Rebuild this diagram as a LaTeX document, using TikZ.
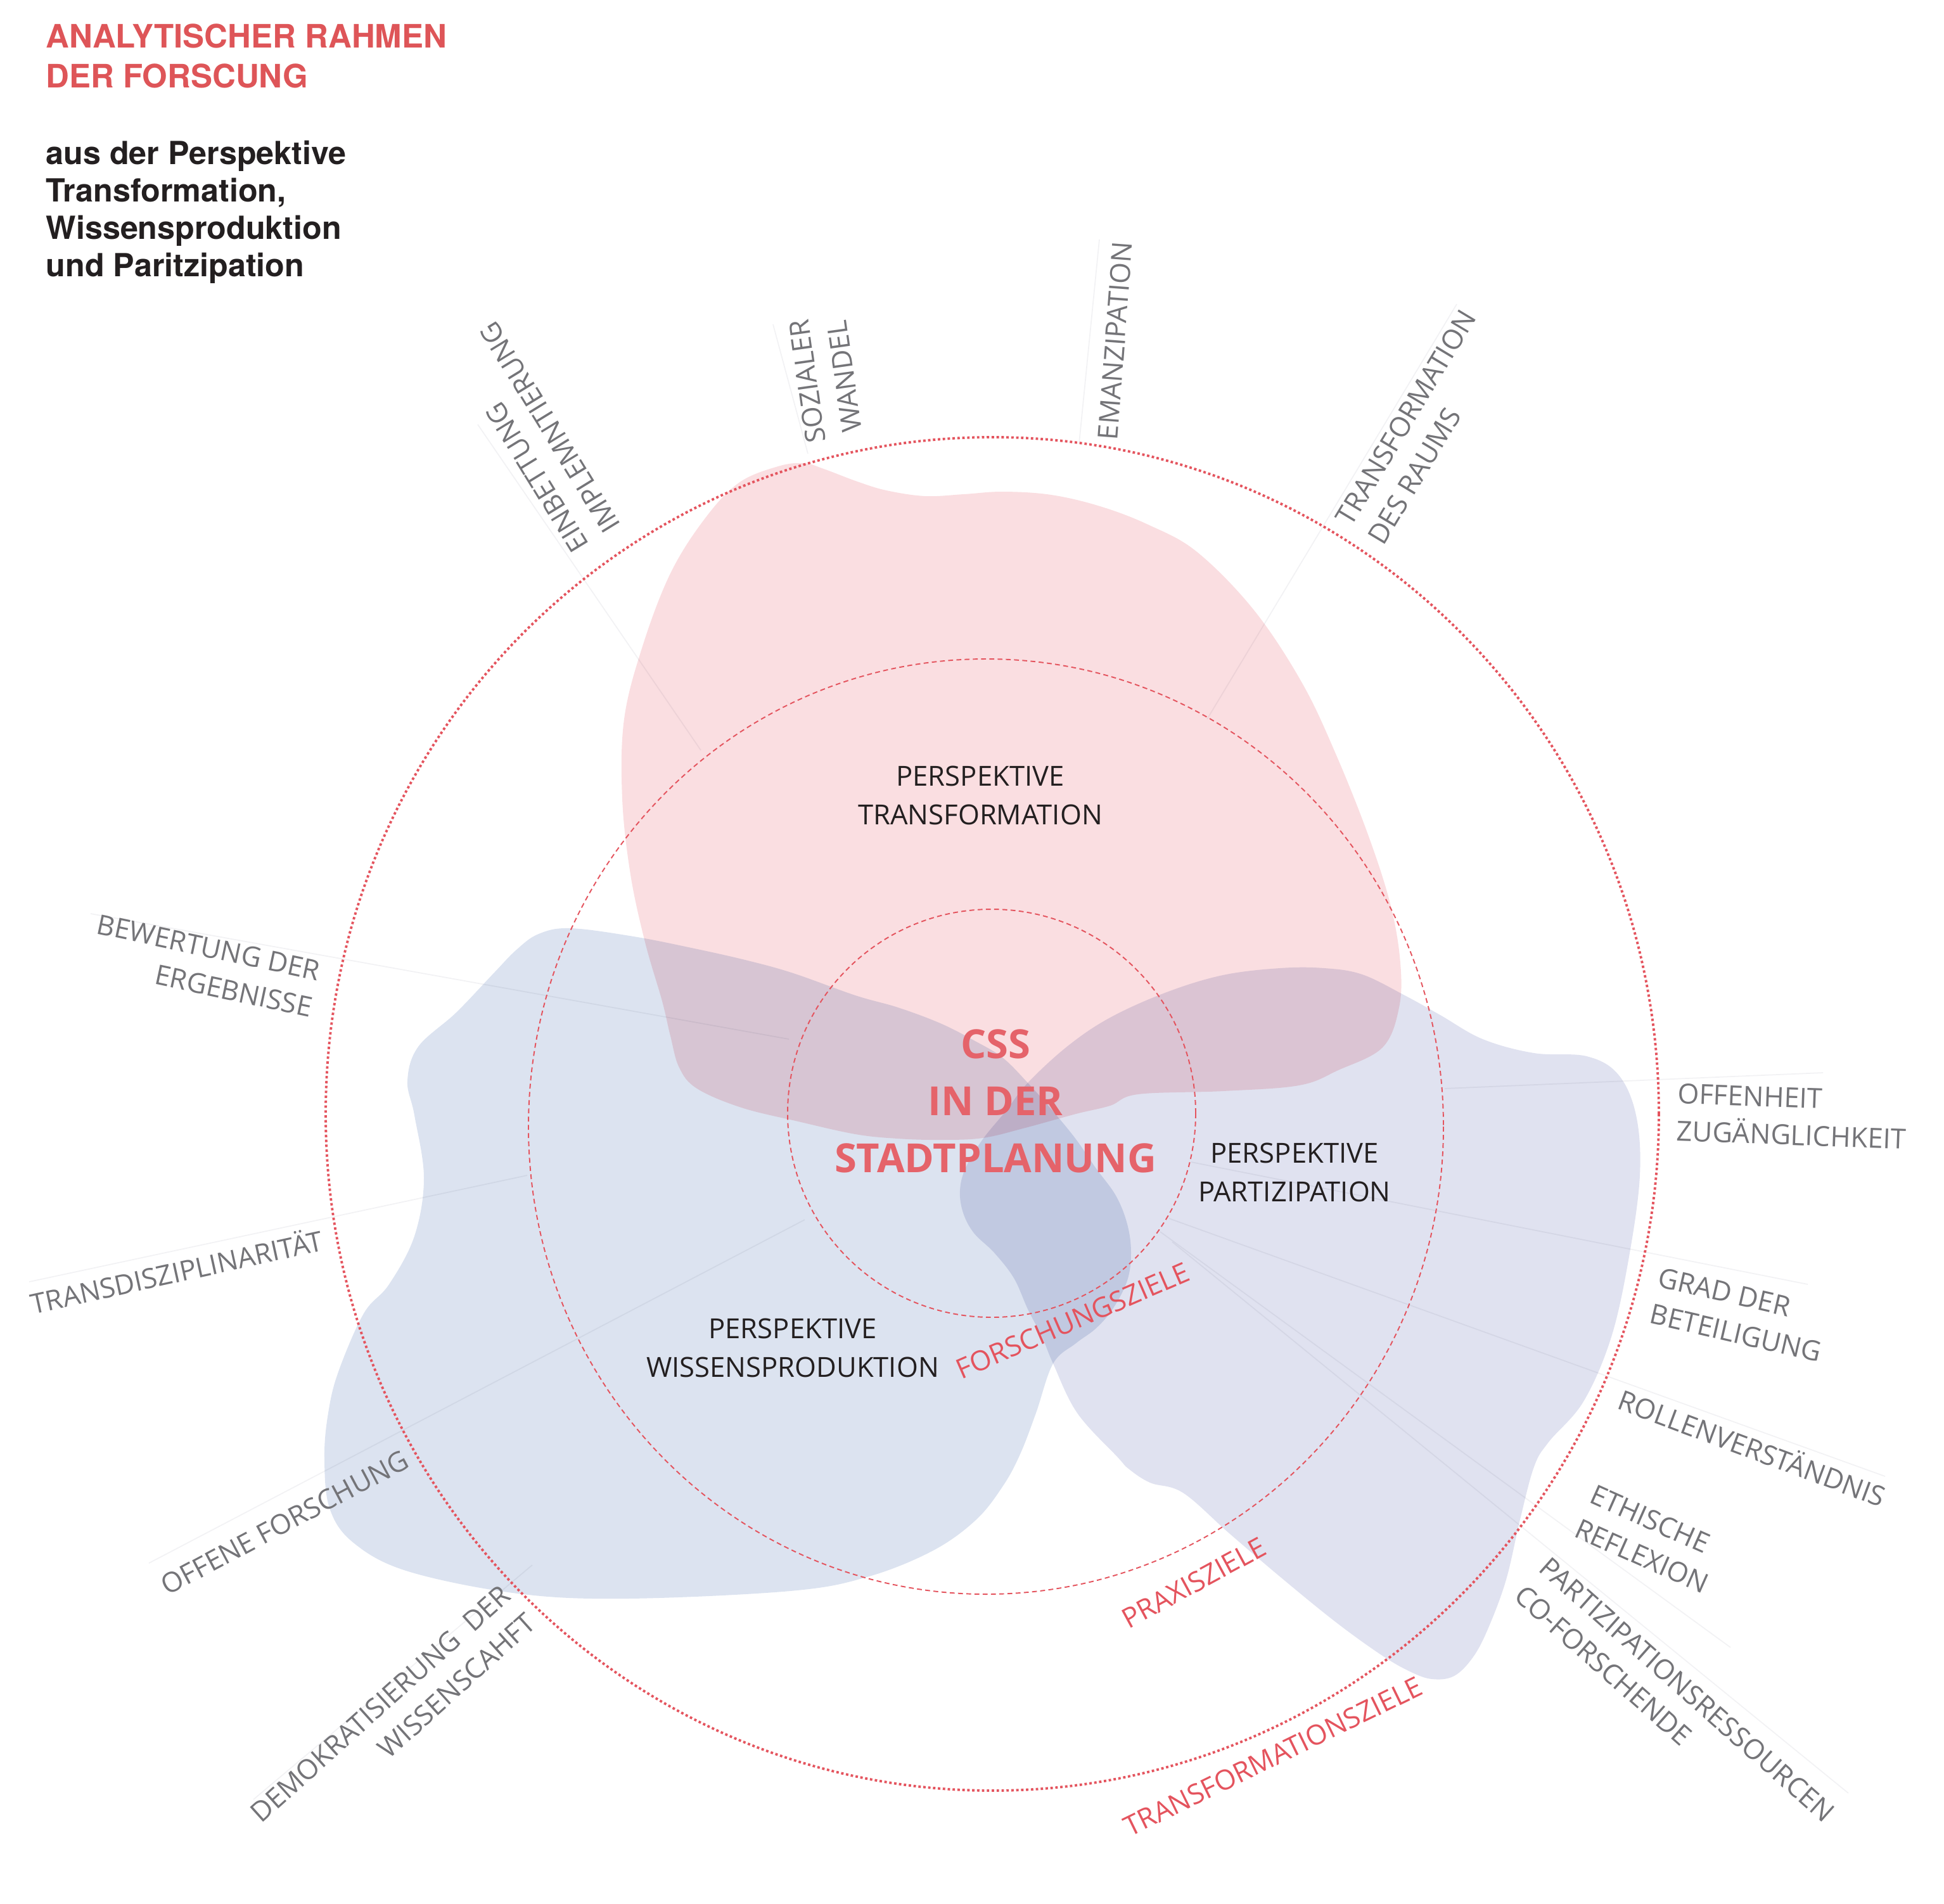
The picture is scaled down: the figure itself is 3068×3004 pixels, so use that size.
\documentclass[tikz,border=0pt]{standalone}
\usepackage{fontspec}
\usetikzlibrary{positioning}
\newfontfamily\opensans{Open Sans}
\newfontfamily\heros{TeX Gyre Heros}
\definecolor{titlered}{RGB}{222,85,88}
\definecolor{ringred}{RGB}{228,84,94}
\definecolor{cssred}{RGB}{229,99,106}
\definecolor{labelgray}{RGB}{116,116,120}
\definecolor{labelblack}{RGB}{35,31,32}
\definecolor{pinkblob}{RGB}{250,222,225}
\definecolor{blueblob}{RGB}{220,227,240}
\definecolor{lavblob}{RGB}{224,226,240}
\definecolor{raygray}{RGB}{242,242,244}

\begin{document}
\begin{tikzpicture}[x=0.1mm, y=-0.1mm,
    axislabel/.style={text=labelgray, inner sep=0pt, font=\opensans\fontsize{12.4}{16.8}\selectfont},
    goallabel/.style={text=ringred, inner sep=0pt, font=\opensans\fontsize{12.4}{15}\selectfont},
    perspective/.style={text=labelblack, inner sep=0pt, align=center, font=\opensans\fontsize{12.4}{17.4}\selectfont},
    outerring/.style={draw=ringred, line width=1.1pt, dash pattern=on 1.1pt off 1.1pt},
    innerring/.style={draw=ringred, line width=0.55pt, dash pattern=on 2.2pt off 1.5pt},
    ray/.style={draw=raygray, line width=0.5pt}]

    \useasboundingbox (0,0) rectangle (3068,3004);

    % Title block top left
    \node[anchor=north west, inner sep=0pt, align=left, text=titlered,
          font=\heros\bfseries\fontsize{14.5}{17.9}\selectfont] (title) at (72,37)
          {ANALYTISCHER RAHMEN\\DER FORSCUNG};
    \node[below=8.2mm of title.south west, anchor=north west, inner sep=0pt, align=left,
          text=labelblack, font=\heros\bfseries\fontsize{14.3}{16.8}\selectfont] (subtitle)
          {aus der Perspektive\\Transformation,\\Wissensproduktion\\und Paritzipation};

    % Faint rays from the labels inwards
    \coordinate (rayA1) at (754,670);   \coordinate (rayB1) at (1106,1184);
    \coordinate (rayA2) at (1220,512);  \coordinate (rayB2) at (1275,716);
    \coordinate (rayA3) at (1735,378);  \coordinate (rayB3) at (1703,700);
    \coordinate (rayA4) at (2299,480);  \coordinate (rayB4) at (1905,1135);
    \coordinate (rayA5) at (143,1442);  \coordinate (rayB5) at (1245,1640);
    \coordinate (rayA6) at (46,2023);   \coordinate (rayB6) at (832,1855);
    \coordinate (rayA7) at (235,2467);  \coordinate (rayB7) at (1270,1925);
    \coordinate (rayA8) at (400,2840);  \coordinate (rayB8) at (840,2470);
    \coordinate (rayA9) at (2877,1693); \coordinate (rayB9) at (2280,1718);
    \coordinate (rayA10) at (2853,2027); \coordinate (rayB10) at (1880,1834);
    \coordinate (rayA11) at (2975,2330); \coordinate (rayB11) at (1845,1923);
    \coordinate (rayA12) at (2731,2600); \coordinate (rayB12) at (1831,1944);
    \coordinate (rayA13) at (2917,2830); \coordinate (rayB13) at (1850,1960);
    \foreach \i in {1,...,13}
        \draw[ray] (rayA\i) -- (rayB\i);

    % Three perspective blobs, multiplied where they overlap
    \begin{scope}[blend mode=multiply]
        % Wissensproduktion
        \fill[blueblob] plot[smooth cycle, tension=0.6] coordinates {
            (850,1474) (900,1465) (1000,1478) (1096,1497) (1180,1516) (1252,1536)
            (1350,1571) (1417,1590) (1484,1615) (1537,1642) (1582,1669) (1622,1709)
            (1662,1754) (1698,1798) (1729,1843) (1761,1887) (1779,1932) (1785,1977)
            (1779,2021) (1756,2066) (1729,2097) (1698,2120) (1662,2152) (1635,2230)
            (1610,2295) (1583,2345) (1540,2399) (1471,2448) (1368,2489) (1247,2511)
            (989,2523) (817,2515) (644,2480) (558,2435) (520,2380) (512,2300)
            (518,2230) (534,2165) (574,2073) (614,2027) (654,1951) (669,1859)
            (654,1760) (643,1706) (660,1652) (720,1598) (780,1535) (815,1499)};
        % Partizipation
        \fill[lavblob] plot[smooth cycle, tension=0.6] coordinates {
            (1587,1754) (1622,1709) (1685,1651) (1752,1606) (1841,1566) (1930,1539)
            (2020,1528) (2090,1528) (2150,1538) (2217,1571) (2273,1602) (2340,1640)
            (2421,1662) (2504,1667) (2554,1696) (2582,1760) (2588,1855) (2571,1983)
            (2543,2110) (2499,2212) (2444,2276) (2421,2315) (2399,2398) (2377,2493)
            (2349,2569) (2325,2615) (2295,2645) (2260,2650) (2225,2638) (2180,2612)
            (2108,2560) (2022,2490) (1940,2420) (1867,2356) (1815,2340) (1781,2318)
            (1764,2300) (1700,2230) (1662,2152) (1645,2111) (1622,2066) (1600,2017)
            (1569,1977) (1537,1946) (1520,1914) (1515,1879) (1524,1843) (1551,1798)};
        % Transformation
        \fill[pinkblob] plot[smooth cycle, tension=0.6] coordinates {
            (1269,731) (1300,740) (1353,760) (1399,774) (1460,783) (1521,780)
            (1583,776) (1659,781) (1736,799) (1812,828) (1889,871) (1979,963)
            (2055,1078) (2109,1192) (2160,1320) (2195,1430) (2210,1520) (2208,1590)
            (2182,1653) (2112,1689) (2050,1713) (1930,1722) (1796,1727) (1752,1745)
            (1698,1758) (1618,1780) (1551,1796) (1484,1799) (1417,1797) (1350,1790)
            (1260,1770) (1170,1748) (1100,1718) (1072,1685) (1058,1635) (1045,1580)
            (1018,1487) (995,1380) (982,1260) (985,1135) (1014,1020) (1058,905)
            (1112,819) (1166,762) (1228,736)};
    \end{scope}

    % Dotted rings
    \draw[outerring] (1566,1758) ellipse [x radius=1052, y radius=1068];
    \draw[innerring] (1556,1778) ellipse [x radius=722, y radius=738];
    \draw[innerring] (1565,1757) circle [radius=322];

    % Centre
    \node[text=cssred, inner sep=0pt, align=center,
          font=\opensans\bfseries\fontsize{18}{25.7}\selectfont] (css) at (1571,1738)
          {CSS\\IN DER\\STADTPLANUNG};

    % Perspectives
    \node[perspective] (ptrans) at (1547,1255) {PERSPEKTIVE\\TRANSFORMATION};
    \node[perspective] (ppart) at (2043,1850) {PERSPEKTIVE\\PARTIZIPATION};
    \node[perspective] (pwiss) at (1251,2127) {PERSPEKTIVE\\WISSENSPRODUKTION};

    % Goals on the rings
    \node[goallabel, rotate=23.5] (forschung) at (1693,2084) {FORSCHUNGSZIELE};
    \node[goallabel, rotate=28.5] (praxis) at (1884,2498) {PRAXISZIELE};
    \node[goallabel, rotate=26] (transziele) at (2009,2772) {TRANSFORMATIONSZIELE};

    % Outer labels, top
    \node[axislabel, rotate=121.5, align=left] (einbettung) at (843,690) {EINBETTUNG\\IMPLEMNTIERUNG};
    \node[axislabel, rotate=98, align=center] (sozial) at (1303,598) {SOZIALER\\WANDEL};
    \node[axislabel, rotate=85.7] (emanz) at (1760,538) {EMANZIPATION};
    \node[axislabel, rotate=59, align=left] (raum) at (2244,674) {TRANSFORMATION\\DES RAUMS};

    % Outer labels, left
    \node[axislabel, rotate=-12, align=right] (bewertung) at (323,1524) {BEWERTUNG DER\\ERGEBNISSE};
    \node[axislabel, rotate=12.4] (transdis) at (278,2005) {TRANSDISZIPLINARITÄT};
    \node[axislabel, rotate=28] (offen) at (449,2403) {OFFENE FORSCHUNG};
    \node[axislabel, rotate=42, align=right] (demokrat) at (620,2711) {DEMOKRATISIERUNG\ \ DER\\WISSENSCAHFT};

    % Outer labels, right
    \node[axislabel, rotate=-2, align=left] (offenheit) at (2828,1762) {OFFENHEIT\\ZUGÄNGLICHKEIT};
    \node[axislabel, rotate=-13, align=left] (grad) at (2746,2075) {GRAD DER\\BETEILIGUNG};
    \node[axislabel, rotate=-20.5] (rollen) at (2766,2283) {ROLLENVERSTÄNDNIS};
    \node[axislabel, rotate=-24, align=left] (ethik) at (2603,2429) {ETHISCHE\\REFLEXION};
    \node[axislabel, rotate=-41.5, align=left] (ressourcen) at (2643,2689) {PARTIZIPATIONSRESSOURCEN\\CO-FORSCHENDE};

\end{tikzpicture}
\end{document}
